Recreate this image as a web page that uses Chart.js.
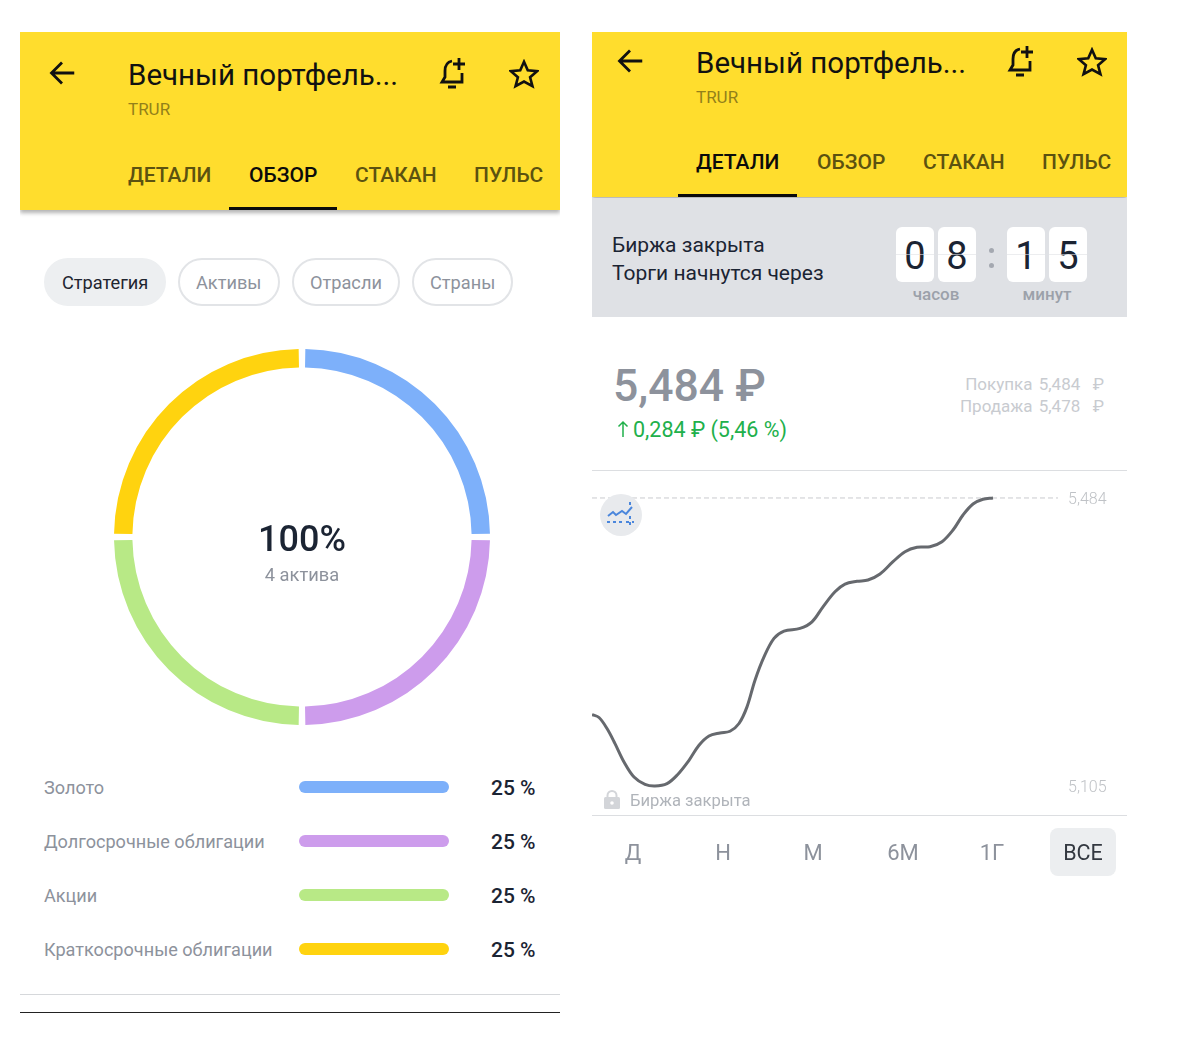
<!DOCTYPE html>
<html lang="ru">
<head>
<meta charset="utf-8">
<title>Вечный портфель</title>
<script src="https://cdn.jsdelivr.net/npm/chart.js@4"></script>
<style>
  html, body { margin: 0; padding: 0; background: #fff; }
  body { position: relative; width: 1200px; height: 1052px; overflow: hidden; font-family: Roboto, sans-serif; }
  .box { position: absolute; }
  .t { position: absolute; white-space: nowrap; line-height: 1; transform: translateY(-50%); }
  .c { transform: translate(-50%, -50%); }
  .r { transform: translate(-100%, -50%); }
  .hdr { background: #ffdd2d; box-shadow: 0 3px 4px rgba(0, 0, 0, .3); clip-path: inset(0 0 -8px 0); }
  .title { font-size: 29.500px; color: #111; }
  .sub { font-size: 17px; color: #93801a; }
  .tab { font-size: 21px; font-weight: 500; color: #5c5210; }
  .tab.on { color: #0b0b0b; }
  .under { background: #0b0b0b; height: 3px; }
  .chip { box-sizing: border-box; height: 48px; border-radius: 24px; border: 2px solid #e2e4e7; top: 258px; }
  .chip.on { background: #edeff1; border-color: #edeff1; }
  .chipt { font-size: 18.200px; color: #8d929c; top: 283px; }
  .lab { font-size: 18.100px; color: #8d929c; left: 44px; }
  .pct { font-size: 21px; font-weight: 500; color: #1b2433; left: 491px; }
  .card { background: #fff; border-radius: 6px; top: 227px; width: 38px; height: 55px; }
  .dig { font-size: 38px; color: #1b2433; top: 256px; }
  .per { font-size: 22px; color: #8d929c; top: 853px; }
  canvas { display: block; }
</style>
</head>
<body>

<!-- left screen -->
<div class="box hdr" style="left:20px;top:32px;width:540px;height:178px"></div>
<svg class="box" style="left:48px;top:59px" width="28" height="28" viewBox="0 0 32 30" fill="none" stroke="#111" stroke-width="3.200"><path d="M30 15H5M16 3 4 15l12 12"/></svg>
<div class="t title" style="left:128px;top:76px">Вечный портфель...</div>
<svg class="box" style="left:437px;top:56px" width="34" height="36" fill="none" stroke="#111" stroke-width="2.800"><path d="M15 5c-5 1-7 5-7 10v6l-3 5h20v-9M11 31h8M22 2v12M16 8h12"/></svg>
<svg class="box" style="left:509px;top:59px" width="30" height="30" viewBox="0 0 32 32" fill="none" stroke="#111" stroke-width="2.800"><path d="M16 3l4 9 10 1-7.500 6.500L25 29l-9-5-9 5 2.500-9.500L2 13l10-1z"/></svg>
<div class="t sub" style="left:128px;top:109px">TRUR</div>
<div class="t tab" style="left:128px;top:175px">ДЕТАЛИ</div>
<div class="t tab on" style="left:249px;top:175px">ОБЗОР</div>
<div class="t tab" style="left:355px;top:175px">СТАКАН</div>
<div class="t tab" style="left:474px;top:175px">ПУЛЬС</div>
<div class="box under" style="left:229px;top:207px;width:108px"></div>

<div class="box chip on" style="left:44px;width:122px"></div>
<div class="box chip" style="left:178px;width:102px"></div>
<div class="box chip" style="left:292px;width:108px"></div>
<div class="box chip" style="left:412px;width:101px"></div>
<div class="t chipt" style="left:62px;color:#1f2530">Стратегия</div>
<div class="t chipt" style="left:196px">Активы</div>
<div class="t chipt" style="left:310px">Отрасли</div>
<div class="t chipt" style="left:430px">Страны</div>

<div class="box" style="left:102px;top:337px;width:400px;height:400px"><canvas id="strategyChart" width="400" height="400"></canvas></div>
<div class="t c" style="left:302px;top:539px;font-size:36px;font-weight:500;color:#1b2433">100%</div>
<div class="t c" style="left:302px;top:575px;font-size:18.300px;color:#8d929c">4 актива</div>

<div id="legend"></div>

<div class="box" style="left:20px;top:994px;width:540px;height:1px;background:#d6d8db"></div>
<div class="box" style="left:20px;top:1012px;width:540px;height:1px;background:#222"></div>

<!-- right screen -->
<div class="box hdr" style="left:592px;top:32px;width:535px;height:165px"></div>
<svg class="box" style="left:616px;top:47px" width="28" height="28" viewBox="0 0 32 30" fill="none" stroke="#111" stroke-width="3.200"><path d="M30 15H5M16 3 4 15l12 12"/></svg>
<div class="t title" style="left:696px;top:64px">Вечный портфель...</div>
<svg class="box" style="left:1005px;top:44px" width="34" height="36" fill="none" stroke="#111" stroke-width="2.800"><path d="M15 5c-5 1-7 5-7 10v6l-3 5h20v-9M11 31h8M22 2v12M16 8h12"/></svg>
<svg class="box" style="left:1077px;top:47px" width="30" height="30" viewBox="0 0 32 32" fill="none" stroke="#111" stroke-width="2.800"><path d="M16 3l4 9 10 1-7.500 6.500L25 29l-9-5-9 5 2.500-9.500L2 13l10-1z"/></svg>
<div class="t sub" style="left:696px;top:97px">TRUR</div>
<div class="t tab on" style="left:696px;top:162px">ДЕТАЛИ</div>
<div class="t tab" style="left:817px;top:162px">ОБЗОР</div>
<div class="t tab" style="left:923px;top:162px">СТАКАН</div>
<div class="t tab" style="left:1042px;top:162px">ПУЛЬС</div>
<div class="box under" style="left:678px;top:194px;width:119px"></div>

<div class="box" style="left:592px;top:198px;width:535px;height:119px;background:#dfe1e5"></div>
<div class="t" style="left:612px;top:245px;font-size:21px;color:#1b2433">Биржа закрыта</div>
<div class="t" style="left:612px;top:273px;font-size:21px;color:#1b2433">Торги начнутся через</div>
<div class="box card" style="left:896px"></div>
<div class="box card" style="left:938px"></div>
<div class="box card" style="left:1007px"></div>
<div class="box card" style="left:1049px"></div>
<div class="t c dig" style="left:915px">0</div>
<div class="t c dig" style="left:957px">8</div>
<div class="t c dig" style="left:1026px">1</div>
<div class="t c dig" style="left:1068px">5</div>
<div class="box" style="left:896px;top:254px;width:191px;height:1px;background:rgba(223,225,229,.6)"></div>
<div class="box" style="left:989px;top:248px;width:5px;height:5px;border-radius:50%;background:#a4a8b0"></div>
<div class="box" style="left:989px;top:263px;width:5px;height:5px;border-radius:50%;background:#a4a8b0"></div>
<div class="t c" style="left:936px;top:294px;font-size:17px;font-weight:500;color:#9ca1aa">часов</div>
<div class="t c" style="left:1047px;top:294px;font-size:17px;font-weight:500;color:#9ca1aa">минут</div>

<div class="t" style="left:613px;top:386px;font-size:44.500px;font-weight:500;color:#8d929c">5,484 ₽</div>
<svg class="box" style="left:617px;top:420px" width="12" height="18" fill="none" stroke="#21b04b" stroke-width="1.500"><path d="M6 17V2M1.500 6.500 6 2l4.500 4.500"/></svg>
<div class="t" style="left:633px;top:430px;font-size:21.500px;color:#21b04b">0,284 ₽ (5,46 %)</div>
<div class="t r" style="left:1104px;top:384px;font-size:17px;color:#c8cbd0;word-spacing:2px">Покупка 5,484 &nbsp;₽</div>
<div class="t r" style="left:1104px;top:406px;font-size:17px;color:#c8cbd0;word-spacing:2px">Продажа 5,478 &nbsp;₽</div>

<div class="box" style="left:592px;top:470px;width:535px;height:1px;background:#dcdee1"></div>
<div class="box" style="left:592px;top:471px;width:535px;height:344px"><canvas id="priceChart" width="535" height="344"></canvas></div>
<div class="box" style="left:592px;top:815px;width:535px;height:1px;background:#dcdee1"></div>

<div class="box" style="left:600px;top:494px;width:42px;height:42px;border-radius:50%;background:#e8eaed"></div>
<svg class="box" style="left:606px;top:501px" width="30" height="28" fill="none" stroke="#4a86dc" stroke-width="2"><path d="M2 15l5-4 3 3 6-4 4 3 6-7"/><path stroke-dasharray="3 3" d="M1 21h16M20 21h8M24 15v12M24 1v3"/></svg>
<svg class="box" style="left:604px;top:790px" width="16" height="19"><path d="M3.500 8V5.500a4.500 4.500 0 0 1 9 0V8" fill="none" stroke="#d3d5d9" stroke-width="2"/><rect y="7" width="16" height="12" rx="1.500" fill="#d3d5d9"/><circle cx="8" cy="13" r="1.800" fill="#fff"/></svg>
<div class="t" style="left:630px;top:801px;font-size:16.600px;color:#b0b4ba">Биржа закрыта</div>

<div class="box" style="left:1050px;top:828px;width:66px;height:48px;border-radius:8px;background:#eceef0"></div>
<div class="t c per" style="left:633px">Д</div>
<div class="t c per" style="left:723px">Н</div>
<div class="t c per" style="left:813px">М</div>
<div class="t c per" style="left:903px">6М</div>
<div class="t c per" style="left:992px">1Г</div>
<div class="t c per" style="left:1083px;color:#333840;font-size:21.500px">ВСЕ</div>

<script>
Chart.defaults.animation = false;
Chart.defaults.responsive = false;

const assets = [
    { name: 'Золото', share: 25, color: '#7db0fa' },
    { name: 'Долгосрочные облигации', share: 25, color: '#cd9cec' },
    { name: 'Акции', share: 25, color: '#b8e986' },
    { name: 'Краткосрочные облигации', share: 25, color: '#ffd30f' }
];

// день от начала графика и цена пая
const prices = [
    [0, 5.1990], [7, 5.1951], [15, 5.1806], [23, 5.1608], [32, 5.1366], [42, 5.1168],
    [53, 5.1072], [63, 5.1050], [75, 5.1081], [85, 5.1191], [97, 5.1388], [107, 5.1586],
    [117, 5.1708], [128, 5.1748], [138, 5.1770], [147, 5.1872], [155, 5.2091], [163, 5.2442],
    [172, 5.2749], [182, 5.2992], [192, 5.3088], [208, 5.3123], [220, 5.3210], [231, 5.3408],
    [243, 5.3606], [253, 5.3707], [265, 5.3743], [276, 5.3760], [288, 5.3839], [301, 5.4001],
    [313, 5.4133], [325, 5.4191], [338, 5.4198], [350, 5.4264], [361, 5.4418], [371, 5.4616],
    [381, 5.4761], [391, 5.4823], [401, 5.4840]
];
const priceNow = 5.484;
const priceLow = 5.105;

const legend = document.getElementById('legend');
assets.forEach((a, i) => {
    const y = 788 + i * 54;
    legend.innerHTML +=
        `<div class="t lab" style="top:${y}px">${a.name}</div>` +
        `<div class="box" style="left:299px;top:${y - 7}px;width:150px;height:12px;border-radius:6px;background:${a.color}"></div>` +
        `<div class="t pct" style="top:${y}px">${a.share} %</div>`;
});

new Chart(document.getElementById('strategyChart'), {
    type: 'doughnut',
    data: {
        labels: assets.map(a => a.name),
        datasets: [{
            data: assets.map(a => a.share),
            backgroundColor: assets.map(a => a.color),
            borderWidth: 0,
            spacing: 8
        }]
    },
    options: {
        cutout: '90%',
        layout: { padding: 12 },
        plugins: { legend: { display: false }, tooltip: { enabled: false } }
    }
});

new Chart(document.getElementById('priceChart'), {
    type: 'line',
    data: {
        datasets: [
            {
                data: prices.map(p => ({ x: p[0], y: p[1] })),
                borderColor: '#66696e',
                borderWidth: 3,
                pointRadius: 0,
                tension: 0.35
            },
            {
                data: [{ x: 0, y: priceNow }, { x: 466, y: priceNow }],
                borderColor: '#c9cbcf',
                borderWidth: 1,
                borderDash: [5, 3],
                pointRadius: 0
            }
        ]
    },
    options: {
        layout: { padding: 0 },
        plugins: { legend: { display: false }, tooltip: { enabled: false } },
        scales: {
            x: { type: 'linear', display: false, min: 0, max: 476 },
            y: {
                position: 'right',
                min: 5.0668,
                max: 5.5195,
                afterBuildTicks: axis => {
                    axis.ticks = [{ value: priceLow }, { value: priceNow }];
                },
                afterFit: axis => {
                    axis.width = 59;
                    axis.paddingTop = 0;
                    axis.paddingBottom = 0;
                },
                grid: { display: false, drawTicks: false, tickLength: 0 },
                border: { display: false },
                ticks: {
                    padding: 0,
                    labelOffset: 2,
                    color: '#bfc2c6',
                    font: { family: 'Roboto', size: 16, weight: '300' },
                    callback: v => v.toFixed(3).replace('.', ',')
                }
            }
        }
    }
});
</script>
</body>
</html>
